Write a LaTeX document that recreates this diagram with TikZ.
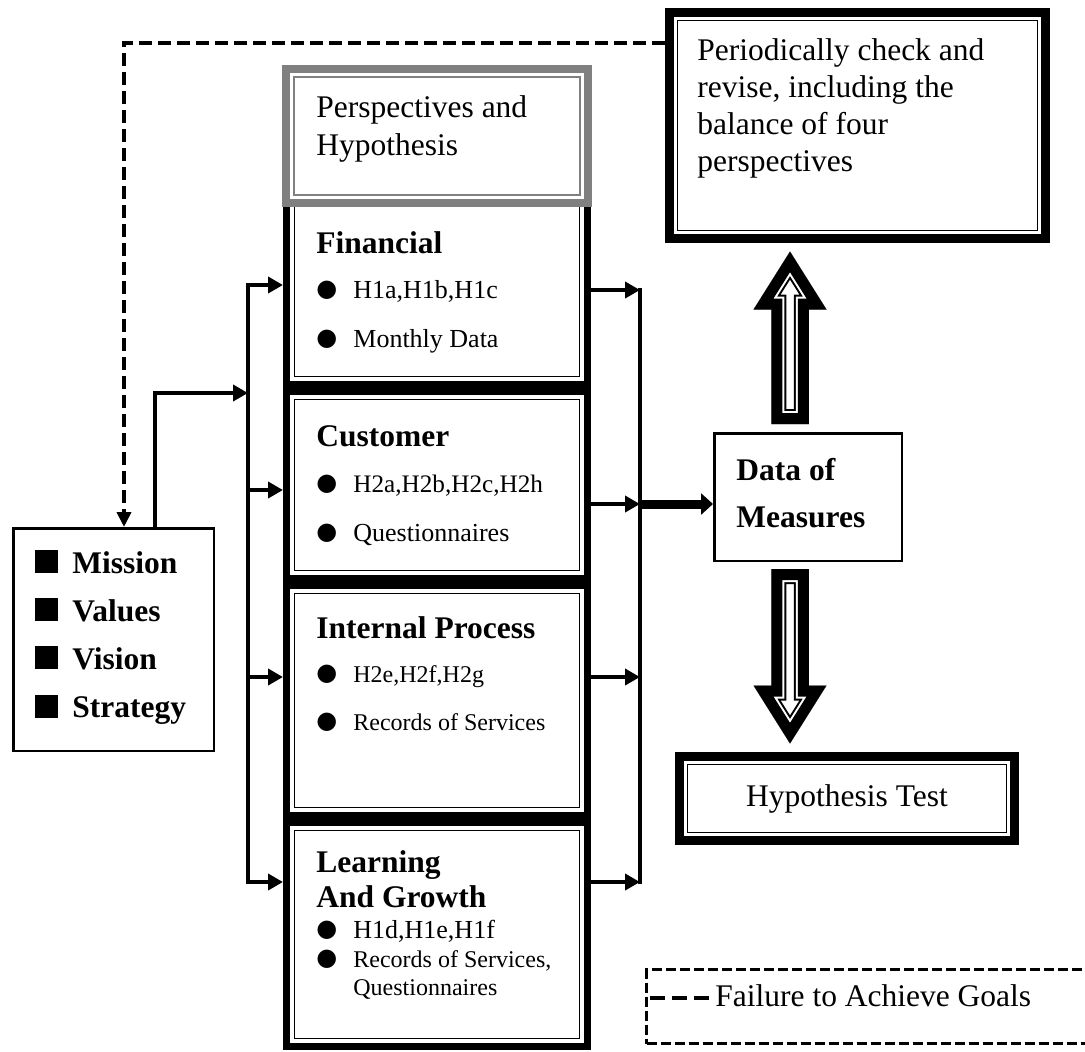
\documentclass[tikz,border=0pt]{standalone}
\usepackage{fontspec}
\setmainfont{Liberation Serif}
\newfontfamily\bulletfont{DejaVu Sans}
\usetikzlibrary{arrows.meta,calc}

\newcommand{\setsize}[1]{\fontsize{#1}{#1}\selectfont}
\newcommand{\bul}{\makebox[18.5pt][l]{\raisebox{1pt}{\bulletfont\setsize{12}●}}}
\newcommand{\sqbul}{\makebox[18.5pt][l]{\rule{11.5pt}{11.5pt}}}

% hollow double-line block arrow from #1 to #2
\newcommand{\hollowarrow}[2]{%
  \coordinate (ha-s) at #1;
  \coordinate (ha-e) at #2;
  \coordinate (ha-h) at ($(ha-e)!29pt!(ha-s)$);
  \coordinate (ha-1) at ($(ha-s)!9.375pt!90:(ha-e)$);
  \coordinate (ha-2) at ($(ha-h)!9.375pt!-90:(ha-s)$);
  \coordinate (ha-3) at ($(ha-h)!18.25pt!-90:(ha-s)$);
  \coordinate (ha-4) at ($(ha-h)!18.25pt!90:(ha-s)$);
  \coordinate (ha-5) at ($(ha-h)!9.375pt!90:(ha-s)$);
  \coordinate (ha-6) at ($(ha-s)!9.375pt!-90:(ha-e)$);
  \begin{scope}
    \clip (ha-1) -- (ha-2) -- (ha-3) -- (ha-e) -- (ha-4) -- (ha-5) -- (ha-6) -- cycle;
    \foreach \w/\clr in {15pt/black,13pt/white,11pt/black}
      \draw[line width=\w,draw=\clr] (ha-1) -- (ha-2) -- (ha-3) -- (ha-e) -- (ha-4) -- (ha-5) -- (ha-6) -- cycle;
  \end{scope}}

\begin{document}
\begin{tikzpicture}[x=0.5pt,y=-0.5pt,
  every node/.style={font=\setsize{15.75}},
  lbl/.style={inner sep=0pt,anchor=base west},
  hd/.style={lbl,font=\setsize{15.75}\bfseries},
  dbox/.style={draw=#1,line width=3.5pt,inner sep=0pt,
    path picture={\draw[#1,line width=0.75pt] ([shift={(4pt,-4pt)}]path picture bounding box.north west) rectangle ([shift={(-4pt,4pt)}]path picture bounding box.south east);}},
  dbox/.default=black,
  plainbox/.style={draw,line width=1.25pt,inner sep=0pt},
  arr/.style={line width=2.25pt,-{Triangle[length=7.5pt,width=8pt]}},
  bus/.style={line width=2.25pt,{Triangle[length=7.5pt,width=8pt]}-{Triangle[length=7.5pt,width=8pt]}},
  feed/.style={line width=2pt,dash pattern=on 6.5pt off 3pt,-{Triangle[length=7.5pt,width=7pt]}},
  fat/.style={line width=4.5pt,-{Triangle[length=6pt,width=10.5pt]}}]
  \path[use as bounding box,fill=white] (0,0) rectangle (1085,1051);

  % Perspective column
  \node[dbox,minimum width=150.5pt,minimum height=94.75pt] (fin) at (437,289.75) {};
  \node[dbox,minimum width=150.5pt,minimum height=93.5pt] (cust) at (437,485) {};
  \node[dbox,minimum width=150.5pt,minimum height=115pt] (intp) at (437,700.5) {};
  \node[dbox,minimum width=150.5pt,minimum height=112pt] (lag) at (437,934.5) {};
  \node[dbox=black!50,fill=white,line width=4pt,minimum width=151pt,minimum height=67pt] (persp) at (437,136) {};
  \node[lbl] (persp-1) at (316,117) {Perspectives and};
  \node[lbl] (persp-2) at (316,155) {Hypothesis};

  \node[hd] (fin-t) at (316,253) {Financial};
  \node[lbl,font=\setsize{13}] (fin-1) at (316,298) {\bul H1a,H1b,H1c};
  \node[lbl,font=\setsize{13}] (fin-2) at (316,347) {\bul Monthly Data};

  \node[hd] (cust-t) at (316,446) {Customer};
  \node[lbl,font=\setsize{12.6}] (cust-1) at (316,492) {\bul H2a,H2b,H2c,H2h};
  \node[lbl,font=\setsize{13}] (cust-2) at (316,541) {\bul Questionnaires};

  \node[hd] (intp-t) at (316,638) {Internal Process};
  \node[lbl,font=\setsize{12}] (intp-1) at (316,682) {\bul H2e,H2f,H2g};
  \node[lbl,font=\setsize{12}] (intp-2) at (316,730) {\bul Records of Services};

  \node[hd] (lag-t) at (316,872) {Learning};
  \node[hd] (lag-t2) at (316,907) {And Growth};
  \node[lbl,font=\setsize{13}] (lag-1) at (316,938) {\bul H1d,H1e,H1f};
  \node[lbl,font=\setsize{12}] (lag-2) at (316,967) {\bul Records of Services,};
  \node[lbl,font=\setsize{12}] (lag-3) at (353,995) {Questionnaires};

  % Mission box
  \node[plainbox,minimum width=100.25pt,minimum height=111.25pt] (mvs) at (113.5,639.5) {};
  \foreach \w [count=\i] in {Mission,Values,Vision,Strategy}
    \node[hd] (mvs-\i) at (35,{573+48.2*(\i-1)}) {\sqbul\w};

  % Right side
  \node[dbox,line width=4.5pt,minimum width=188pt,minimum height=113pt] (check) at (857.5,125.5) {};
  \foreach \t [count=\i] in {Periodically check and,{revise, including the},balance of four,perspectives}
    \node[lbl] (check-\i) at (697,{60+37*(\i-1)}) {\t};
  \node[plainbox,minimum width=93.75pt,minimum height=63.75pt] (data) at (808,497) {};
  \node[hd] (data-1) at (736,480) {Data of};
  \node[hd] (data-2) at (736,527) {Measures};
  \node[dbox,line width=4.5pt,minimum width=167.5pt,minimum height=42pt] (htest) at (847,798.5) {Hypothesis Test};

  % Legend
  \node[draw,line width=1.5pt,dash pattern=on 5pt off 2pt,inner sep=0pt,minimum width=226.75pt,minimum height=37pt] (legend) at (873.25,1006.5) {};
  \node[lbl] (legtxt) at (715,1006) {Failure to Achieve Goals};

  % Connectors
  \coordinate (lb0) at (248,393);
  \coordinate (lb1) at (248,285);
  \coordinate (lb2) at (248,490);
  \coordinate (lb3) at (248,677);
  \coordinate (lb4) at (248,882);
  \coordinate (rb1) at (640,290);
  \coordinate (rb2) at (640,504);
  \coordinate (rb3) at (640,677);
  \coordinate (rb4) at (640,882);
  \coordinate (mup) at (155,393);
  \coordinate (fb) at (124,43);
  \coordinate (ax) at (790,0);
  \coordinate (lg) at (650,998);

  \draw[bus] (fin.west |- lb1) -- (lb1) -- (lb4) -- (lag.west |- lb4);
  \draw[arr] (lb2) -- (cust.west |- lb2);
  \draw[arr] (lb3) -- (intp.west |- lb3);
  \draw[arr] (mup |- mvs.north) -- (mup) -- (lb0);
  \draw[line width=2.25pt,line cap=rect] (rb1) -- (rb4);
  \foreach \b/\n in {1/fin,2/cust,3/intp,4/lag}
    \draw[arr] (\n.east |- rb\b) -- (rb\b);
  \draw[fat] (rb2) -- (data.west |- rb2);
  \draw[feed] (check.west |- fb) -- (fb) -- (fb |- mvs.north);
  \draw[line width=2pt,dash pattern=on 7.5pt off 3.5pt] (lg) -- (legtxt.west |- lg);

  \hollowarrow{($(ax |- data.north)+(0,-8)$)}{($(ax |- check.south)+(0,8.5)$)}
  \hollowarrow{($(ax |- data.south)+(0,7)$)}{($(ax |- htest.north)+(0,-8.5)$)}
\end{tikzpicture}
\end{document}
